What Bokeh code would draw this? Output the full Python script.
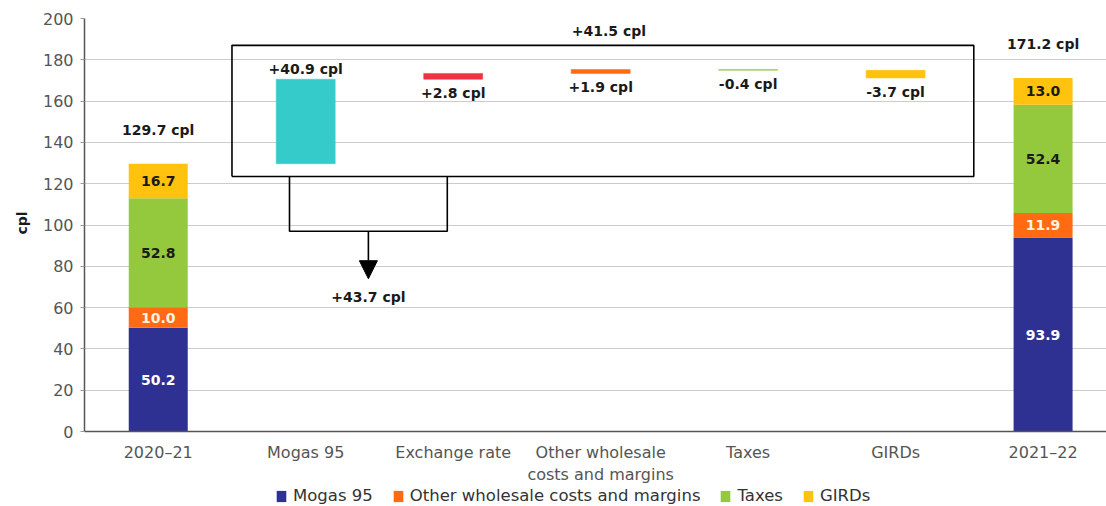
from bokeh.plotting import figure
from bokeh.models import (ColumnDataSource, Range1d, FixedTicker, Legend, LegendItem,
                          Arrow, NormalHead, Title)
from bokeh.core.properties import value
from bokeh.embed import file_html
from bokeh.resources import INLINE

# --- data -------------------------------------------------------------
categories = ["2020–21", "Mogas 95", "Exchange rate",
              "Other wholesale\ncosts and margins", "Taxes", "GIRDs", "2021–22"]
components = ["Mogas 95", "Other wholesale costs and margins", "Taxes", "GIRDs"]
start_values = [50.2, 10.0, 52.8, 16.7]      # 2020–21
end_values = [93.9, 11.9, 52.4, 13.0]        # 2021–22
changes = [40.9, 2.8, 1.9, -0.4, -3.7]       # Mogas 95, FX, other, taxes, GIRDs
combined_change = 41.5
mogas_fx_change = 43.7
y_ticks = [0, 20, 40, 60, 80, 100, 120, 140, 160, 180, 200]

comp_colors = ["#2e3192", "#ff6a13", "#95c93d", "#ffc20e"]
comp_text_colors = ["white", "#fff3e0", "#1a1a1a", "#1a1a1a"]
change_colors = ["#36cbcb", "#ef3340", "#ff6a13", "#95c93d", "#ffc20e"]

FONT = "DejaVu Sans"
LBL_SIZE = "14px"
TICK_SIZE = "16px"
BAR_W = 0.4

# The frame reaches the bottom of the page; the x axis sits at y = 0 and the
# space underneath holds the category labels and the legend.
p = figure(frame_width=1022, frame_height=488, output_backend="svg",
           toolbar_location=None,
           x_range=Range1d(0, 6.93), y_range=Range1d(-36.3, 200),
           min_border_left=84, min_border_right=0, min_border_top=18,
           min_border_bottom=0)
p.outline_line_color = None
p.background_fill_color = "white"
p.border_fill_color = "white"

# --- stacked totals ---------------------------------------------------
def stacked(vals):
    bottoms, tops = [], []
    acc = 0.0
    for v in vals:
        bottoms.append(acc)
        acc += v
        tops.append(acc)
    return bottoms, tops, acc

renderers = {c: [] for c in components}
for xpos, vals in ((0.5, start_values), (6.5, end_values)):
    bottoms, tops, total = stacked(vals)
    src = ColumnDataSource(dict(
        x=[xpos] * len(vals),
        mid=[(b + t) / 2 for b, t in zip(bottoms, tops)],
        tcolor=comp_text_colors, label=[f"{v:.1f}" for v in vals]))
    for i, comp in enumerate(components):
        r = p.vbar(x=xpos, bottom=bottoms[i], top=tops[i], width=BAR_W,
                   fill_color=comp_colors[i], line_color=None)
        renderers[comp].append(r)
    p.text(x="x", y="mid", text="label", source=src, text_color="tcolor",
           text_align="center", text_baseline="middle", text_font=value(FONT),
           text_font_size=LBL_SIZE, text_font_style="bold")
    p.text(x=[xpos], y=[total], text=[f"{total:.1f} cpl"], text_align="center",
           text_baseline="middle", y_offset=-34, text_font=value(FONT),
           text_font_size=LBL_SIZE, text_font_style="bold", text_color="#1a1a1a")

# --- waterfall steps --------------------------------------------------
level = sum(start_values)
wx, wb, wt, labels, ly, loff = [], [], [], [], [], []
for i, ch in enumerate(changes):
    lo, hi = sorted((level, level + ch))
    wx.append(1.5 + i); wb.append(lo); wt.append(hi)
    labels.append(f"{ch:+.1f} cpl")
    if i == 0:
        ly.append(hi); loff.append(-10)
    else:
        ly.append(lo); loff.append(14)
    level += ch

wsrc = ColumnDataSource(dict(x=wx, bottom=wb, top=wt, color=change_colors,
                             label=labels, ly=ly, loff=loff))
p.vbar(x="x", bottom="bottom", top="top", width=BAR_W, fill_color="color",
       line_color="color", line_width=0.5, source=wsrc)
p.text(x="x", y="ly", text="label", source=wsrc, text_align="center",
       text_baseline="middle", y_offset="loff", text_font=value(FONT),
       text_font_size=LBL_SIZE, text_font_style="bold", text_color="#1a1a1a")

# --- annotation box around the price drivers --------------------------
box_l, box_r, box_b, box_t = 1.0, 6.03, 123.5, 187.0
p.line(x=[box_l, box_r, box_r, box_l, box_l],
       y=[box_b, box_b, box_t, box_t, box_b], line_color="black", line_width=1.6)
p.text(x=[(box_l + box_r) / 2], y=[box_t], text=[f"{combined_change:+.1f} cpl"],
       text_align="center", text_baseline="middle", x_offset=6, y_offset=-14,
       text_font=value(FONT), text_font_size=LBL_SIZE, text_font_style="bold",
       text_color="#1a1a1a")

# bracket joining Mogas 95 and exchange rate
br_l, br_r, br_y = 1.39, 2.46, 97.0
p.line(x=[br_l, br_l, br_r, br_r], y=[box_b, br_y, br_y, box_b],
       line_color="black", line_width=1.6)
arrow_x = (br_l + br_r) / 2
p.add_layout(Arrow(end=NormalHead(size=18, fill_color="black", line_color="black"),
                   x_start=arrow_x, y_start=br_y, x_end=arrow_x, y_end=74,
                   line_color="black", line_width=1.6))
p.text(x=[arrow_x], y=[74], text=[f"{mogas_fx_change:+.1f} cpl"],
       text_align="center", text_baseline="middle", y_offset=18,
       text_font=value(FONT), text_font_size=LBL_SIZE, text_font_style="bold",
       text_color="#1a1a1a")

# --- axes -------------------------------------------------------------
p.xgrid.grid_line_color = None
p.ygrid.grid_line_color = "#cccccc"
p.ygrid.grid_line_width = 1.2
p.yaxis.ticker = FixedTicker(ticks=y_ticks)
p.yaxis.bounds = (0, 200)
p.xaxis.ticker = FixedTicker(ticks=[0.5 + i for i in range(len(categories))])
p.xaxis.major_label_overrides = {0.5 + i: c for i, c in enumerate(categories)}
p.xaxis.fixed_location = 0

for ax in (p.xaxis, p.yaxis):
    ax.axis_line_color = "#555555"
    ax.axis_line_width = 1.5
    ax.major_tick_line_color = None
    ax.minor_tick_line_color = None
    ax.major_label_text_font = FONT
    ax.major_label_text_font_size = TICK_SIZE
    ax.major_label_text_color = "#555555"
p.yaxis.major_tick_line_color = "#999999"
p.yaxis.major_tick_out = 4
p.yaxis.major_tick_in = 0
p.yaxis.major_label_standoff = 7
p.xaxis.major_label_standoff = 5

# y-axis title, centred on the 0–200 span of the axis
p.add_layout(Title(text="cpl", align="left", offset=272, text_font=FONT,
                   text_font_size="14px", text_font_style="bold",
                   text_color="#1a1a1a", standoff=20), "left")

# --- legend (under the category labels) -------------------------------
legend = Legend(items=[LegendItem(label=c, renderers=[renderers[c][0]]) for c in components],
                orientation="horizontal", location=(191, 1),
                label_text_font=FONT, label_text_font_size="16.5px",
                label_text_color="#333333", glyph_width=12, glyph_height=14,
                label_standoff=6, spacing=19, padding=0, margin=0,
                label_height=17, border_line_color=None, background_fill_alpha=0)
p.add_layout(legend, "center")

open("out.html", "w").write(file_html(p, INLINE))
